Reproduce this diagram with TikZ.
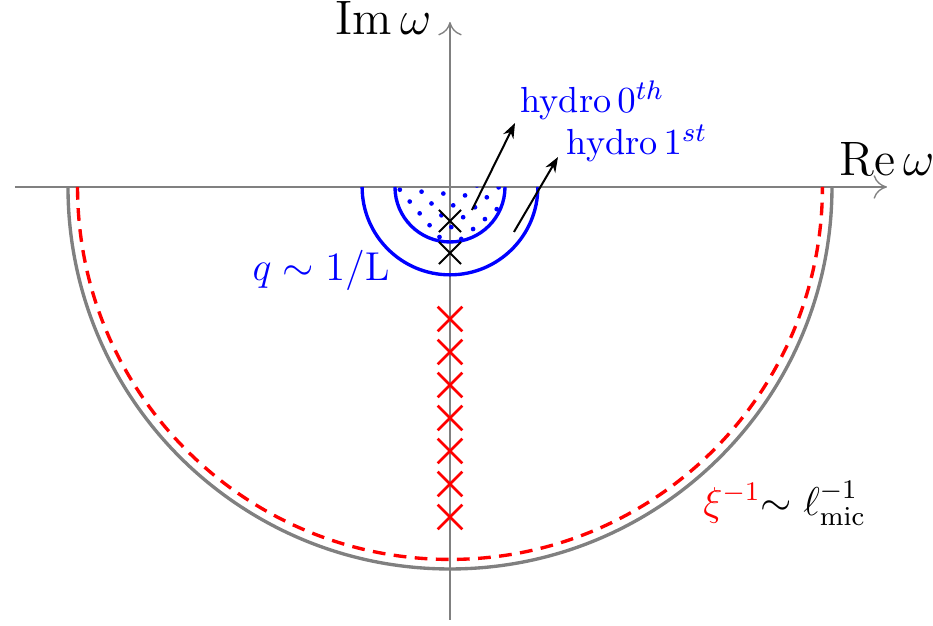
\documentclass[tikz,border=0pt]{standalone}
\usepackage{amsmath}
\usetikzlibrary{arrows.meta, positioning, shapes.misc, patterns.meta}

\begin{document}
\begin{tikzpicture}[
  axis/.style={draw=gray, -{To[length=4pt, width=7pt]}},
  axlabel/.style={font=\fontsize{14}{16}\selectfont},
  hydro/.style={text=blue, font=\fontsize{10.8}{13}\selectfont},
  pole/.style={cross out, draw, minimum size=0.21cm, inner sep=0pt, line width=0.6pt},
  mode/.style={pole, draw=red, minimum size=0.23cm, line width=0.8pt},
  ring/.style={draw=blue, line width=1pt},
  pointer/.style={-{Stealth[length=4.5pt]}, semithick},
]
\useasboundingbox (-4.712,-4.597) rectangle (5.058,1.958);

% Axes
\coordinate (xl) at (-4.555,0);
\coordinate (xr) at (4.576,0);
\coordinate (yb) at (0,-4.534);
\coordinate (yt) at (0,1.728);
\draw[axis] (xl) -- (xr);
\draw[axis] (yb) -- (yt);
\node[axlabel, above] (re) at (xr) {$\mathrm{Re}\,\omega$};
\node[axlabel, anchor=base east] (im) at (-0.07,1.60) {$\mathrm{Im}\,\omega$};

% Cutoff circles
\draw[gray, line width=1pt] (-4,0) arc (180:360:4);
\draw[red, dash pattern=on 3.8pt off 2.5pt, line width=1pt] (-3.9,0) arc (180:360:3.9);

% Hydro region
\fill[pattern={Dots[distance=4.6pt, angle=40, radius=0.7pt]}, pattern color=blue] (-0.576,0) arc (180:360:0.576) -- cycle;
\draw[ring] (-0.576,0) arc (180:360:0.576);
\draw[ring] (-0.92,0) arc (180:360:0.92);

% Poles
\node[pole] (p0) at (0,-0.356) {};
\node[pole] (p1) at (0,-0.691) {};
\foreach \i in {0,...,6}
  \node[mode] (m\i) at (0,{-1.382-0.3455*\i}) {};

% Labels
\coordinate (s0) at (0.230,-0.241);
\coordinate (t0) at (0.681,0.670);
\coordinate (s1) at (0.670,-0.471);
\coordinate (t1) at (1.131,0.314);
\draw[pointer] (s0) -- (t0);
\draw[pointer] (s1) -- (t1);
\node[hydro, anchor=base west] (h0) at (0.616,0.775) {hydro\,$0^{th}$};
\node[hydro, anchor=base west] (h1) at (1.10,0.335) {hydro\,$1^{st}$};
\node[text=blue, font=\large, anchor=base east] (q) at (-0.51,-0.98) {$q\sim 1/\mathrm{L}$};
\node[font=\large, anchor=base west] (xi) at (2.53,-3.435) {\textcolor{red}{$\xi^{-1}$}$\sim \ell^{-1}_{\mathrm{mic}}$};

\end{tikzpicture}
\end{document}
